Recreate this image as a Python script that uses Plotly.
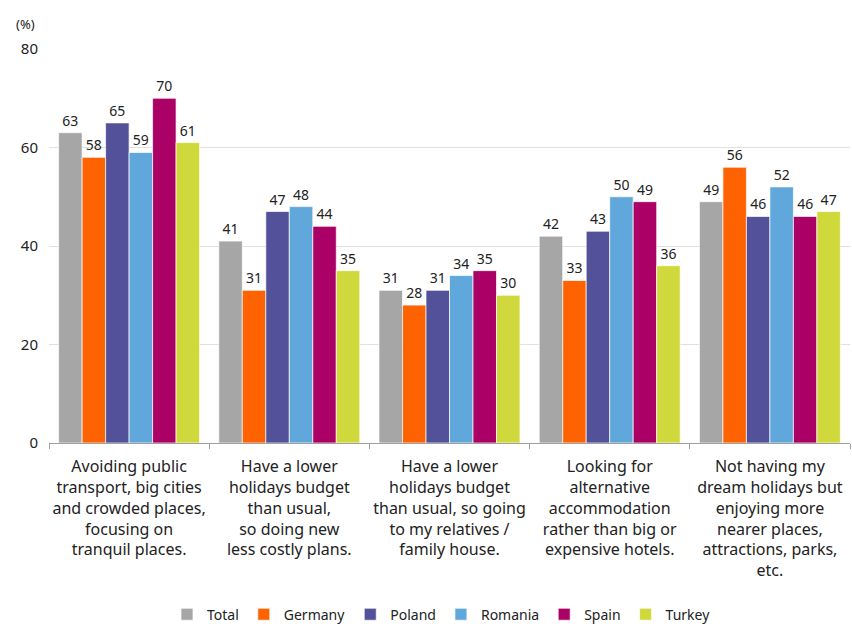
import plotly.graph_objects as go

categories = [
    "Avoiding public<br>transport, big cities<br>and crowded places,<br>focusing on<br>tranquil places.",
    "Have a lower<br>holidays budget<br>than usual,<br>so doing new<br>less costly plans.",
    "Have a lower<br>holidays budget<br>than usual, so going<br>to my relatives /<br>family house.",
    "Looking for<br>alternative<br>accommodation<br>rather than big or<br>expensive hotels.",
    "Not having my<br>dream holidays but<br>enjoying more<br>nearer places,<br>attractions, parks,<br>etc.",
]
series_names = ["Total", "Germany", "Poland", "Romania", "Spain", "Turkey"]
total = [63, 41, 31, 42, 49]
germany = [58, 31, 28, 33, 56]
poland = [65, 47, 31, 43, 46]
romania = [59, 48, 34, 50, 52]
spain = [70, 44, 35, 49, 46]
turkey = [61, 35, 30, 36, 47]
values = [total, germany, poland, romania, spain, turkey]
colors = ["#A6A6A6", "#FF6200", "#525199", "#60A8DC", "#AB0066", "#D0D93C"]

FONT = "Noto Sans"
fig = go.Figure()
for name, vals, c in zip(series_names, values, colors):
    fig.add_trace(go.Bar(
        name=name, x=categories, y=vals, marker_color=c,
        marker_line=dict(color="rgba(255,255,255,0.7)", width=1),
        text=[str(v) for v in vals], textposition="outside",
        textfont=dict(size=14, color="#222"), cliponaxis=False,
    ))

fig.update_layout(
    width=852, height=624,
    margin=dict(l=49, r=2, t=49, b=181, autoexpand=False),
    paper_bgcolor="white", plot_bgcolor="white",
    font=dict(family=FONT, size=14, color="#222"),
    barmode="group", bargap=0.12, bargroupgap=0,
    showlegend=True,
    legend=dict(orientation="h", x=0.49, xanchor="center", y=-0.395, yanchor="top",
                font=dict(size=14), itemwidth=30, traceorder="normal",
                tracegroupgap=0),
    yaxis=dict(range=[0, 80], dtick=20, showgrid=True, gridcolor="#E0E0E0",
               zeroline=False, showline=False, ticks="", tickfont=dict(size=15),
               ticklabelstandoff=10, automargin=False),
    xaxis=dict(showline=True, linecolor="#A0A0A0", linewidth=1, ticks="outside",
               tickson="boundaries", ticklen=5, tickcolor="#A0A0A0",
               tickfont=dict(size=16), tickangle=0, ticklabelstandoff=9,
               automargin=False),
    annotations=[dict(text="(%)", x=0.0, y=1.0, xref="paper", yref="paper",
                      xanchor="right", yanchor="bottom", xshift=-12, yshift=14,
                      showarrow=False, font=dict(size=13))],
)
fig.write_html("out.html", config={"displayModeBar": False},
               post_script="document.body.style.margin='0';")
